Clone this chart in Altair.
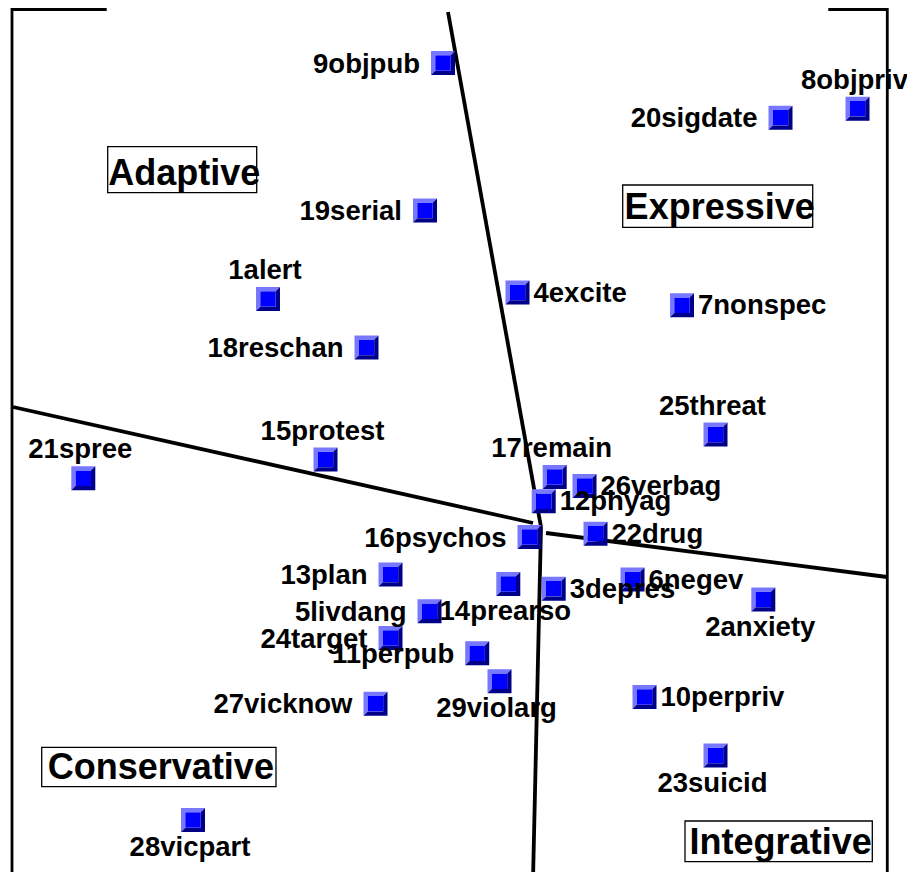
import altair as alt
import pandas as pd

# ---- data (page-pixel units) ----
names = ["9objpub", "8objpriv", "20sigdate", "19serial", "1alert", "4excite",
         "7nonspec", "18reschan", "25threat", "15protest", "21spree", "17remain",
         "26verbag", "12phyag", "22drug", "16psychos", "13plan", "14prearso",
         "3depres", "6negev", "2anxiety", "5livdang", "24target", "11perpub",
         "29violarg", "27vicknow", "10perpriv", "23suicid", "28vicpart"]
xs = [443, 857.5, 780.5, 425, 268, 517.5, 682, 366.5, 715.5, 325.5, 83.3, 554.7,
      584.5, 543.7, 595.5, 529.5, 390.5, 508.3, 553.7, 632.5, 763.3, 429.5, 390.5,
      477.2, 499.5, 375.5, 644.5, 715.5, 193]
ys = [63, 108.7, 117.7, 210.5, 299, 292.5, 305.3, 347.5, 434.5, 459.5, 478.3, 477,
      486, 501.3, 533.7, 537, 574.5, 584, 588.7, 579.5, 599.5, 611.3, 638, 653.3,
      681.3, 703.7, 697, 755.5, 820]
label_side = ["L", "T", "L", "L", "T", "R", "R", "L", "T", "T", "T", "T", "R", "R",
              "R", "L", "L", "B", "R", "R", "B", "L", "L", "L", "B", "L", "R", "B", "B"]

quad_names = ["Adaptive", "Expressive", "Conservative", "Integrative"]
quad_left = [107.7, 622.7, 41.7, 685]
quad_right = [256.7, 812.7, 276, 872.3]
quad_top = [146.7, 185, 747.3, 821]
quad_bottom = [192.7, 227.3, 786.7, 861.7]

ray_x1 = [448, 541, 13, 546]
ray_y1 = [12, 527, 407, 533]
ray_x2 = [541, 533, 533, 887]
ray_y2 = [527, 880, 523, 577]

frame_x1 = [12, 12, 828.3, 887.3]
frame_y1 = [9.5, 8, 9.5, 8]
frame_x2 = [106.7, 12, 887.3, 887.3]
frame_y2 = [9.5, 880, 9.5, 880]

# ---- layout ----
W, H = 899, 864
X0, Y0 = 8, 8
FONT = "Liberation Sans"

xsc = alt.Scale(domain=[X0, X0 + W], nice=False, zero=False)
ysc = alt.Scale(domain=[Y0, Y0 + H], nice=False, zero=False, reverse=True)

pts = pd.DataFrame({"name": names, "x": xs, "y": ys, "side": label_side})
off = {"L": (-23, 9.5), "R": (16, 9), "T": (-3, -20), "B": (-3, 36)}
pts["lx"] = [x + off[s][0] for x, s in zip(pts.x, pts.side)]
pts["ly"] = [y + off[s][1] for y, s in zip(pts.y, pts.side)]

rays = pd.DataFrame({"x1": ray_x1, "y1": ray_y1, "x2": ray_x2, "y2": ray_y2})
frame = pd.DataFrame({"x1": frame_x1, "y1": frame_y1, "x2": frame_x2, "y2": frame_y2})
quads = pd.DataFrame({"name": quad_names, "l": quad_left, "r": quad_right,
                      "t": quad_top, "b": quad_bottom})
quads["cx"] = (quads.l + quads.r) / 2 + 2
quads["by"] = quads.b - 8


def seg_layer(df, width):
    return alt.Chart(df).mark_rule(color="black", strokeWidth=width, strokeCap="butt").encode(
        x=alt.X("x1:Q", scale=xsc, axis=None),
        y=alt.Y("y1:Q", scale=ysc, axis=None),
        x2="x2:Q", y2="y2:Q")


frame_layer = seg_layer(frame, 2.8)
ray_layer = seg_layer(rays, 3.8)

k = 0.64
light_path = f"M -1 -1 L 1 -1 L {k} {-k} L {-k} {-k} L {-k} {k} L -1 1 Z"
dark_path = f"M 1 -1 L 1 1 L -1 1 L {-k} {k} L {k} {k} L {k} {-k} Z"
core_path = f"M {-k} {-k} L {k} {-k} L {k} {k} L {-k} {k} Z"


def marker(path, col):
    return alt.Chart(pts).mark_point(shape=path, filled=True, size=576, color=col,
                                     opacity=1, strokeWidth=0).encode(
        x=alt.X("x:Q", scale=xsc, axis=None),
        y=alt.Y("y:Q", scale=ysc, axis=None))


markers = marker(light_path, "#7878ff") + marker(dark_path, "#000088") + marker(core_path, "#0000ff")

labels = []
for side, al in [("L", "right"), ("R", "left"), ("T", "center"), ("B", "center")]:
    labels.append(
        alt.Chart(pts[pts.side == side]).mark_text(
            font=FONT, fontWeight="bold", fontSize=27.5, align=al,
            baseline="alphabetic", color="black").encode(
            x=alt.X("lx:Q", scale=xsc, axis=None),
            y=alt.Y("ly:Q", scale=ysc, axis=None),
            text="name:N"))

boxes = alt.Chart(quads).mark_rect(fill="white", stroke="black", strokeWidth=1.3).encode(
    x=alt.X("l:Q", scale=xsc, axis=None),
    x2="r:Q",
    y=alt.Y("t:Q", scale=ysc, axis=None),
    y2="b:Q")

quad_text = alt.Chart(quads).mark_text(
    font=FONT, fontWeight="bold", fontSize=36, align="center",
    baseline="alphabetic", color="black").encode(
    x=alt.X("cx:Q", scale=xsc, axis=None),
    y=alt.Y("by:Q", scale=ysc, axis=None),
    text="name:N")

chart = alt.layer(frame_layer, ray_layer, markers, *labels, boxes, quad_text).properties(
    width=W, height=H, padding=0, autosize=alt.AutoSizeParams(type="none")
).configure_view(strokeWidth=0)

chart.save("out.html", embed_options={"renderer": "svg", "actions": False})
